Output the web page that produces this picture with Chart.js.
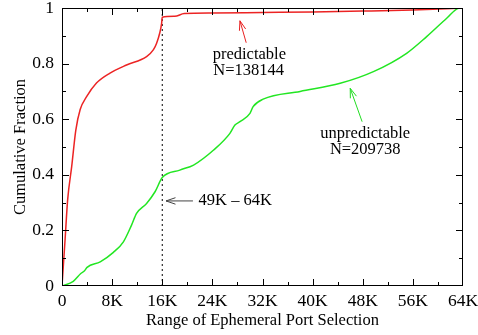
<!DOCTYPE html>
<html>
<head>
<meta charset="utf-8">
<script src="https://cdn.jsdelivr.net/npm/chart.js@4.4.1/dist/chart.umd.min.js"></script>
<style>
  html, body { margin: 0; padding: 0; background: #fff; }
</style>
</head>
<body>
<canvas id="myChart" width="478" height="335"></canvas>
<script>
// port range in K (thousands of ports), cumulative fraction on y
const predictableX = [0, 0.5, 0.9, 1.55, 2.2, 2.9, 3.9, 5.5, 7.6, 10.3, 13.5, 14.6, 15.1, 15.6, 15.9, 16.0, 18.0, 19.5, 24, 32, 40, 48, 56, 64];
const predictableY = [0, 0.17, 0.31, 0.43, 0.56, 0.635, 0.68, 0.73, 0.765, 0.795, 0.825, 0.85, 0.873, 0.91, 0.945, 0.967, 0.970, 0.980, 0.982, 0.984, 0.986, 0.989, 0.993, 1.0];

const unpredictableX = [0, 1.8, 3.0, 3.6, 4.0, 6.1, 8.2, 9.8, 11.1, 11.9, 13.5, 14.85, 16.0, 18.8, 21.0, 24.2, 26.8, 27.6, 28.4, 30.0, 30.5, 32.1, 38, 44.4, 49.7, 55.0, 58.2, 61.4, 63.3, 64];
const unpredictableY = [0, 0.017, 0.045, 0.055, 0.067, 0.087, 0.121, 0.159, 0.219, 0.261, 0.297, 0.339, 0.390, 0.417, 0.435, 0.489, 0.549, 0.579, 0.591, 0.621, 0.645, 0.672, 0.70, 0.729, 0.771, 0.837, 0.897, 0.963, 0.999, 1.0];

const cutoffX = [16, 16];
const cutoffY = [0, 1];

const xTicks = [0, 8, 16, 24, 32, 40, 48, 56, 64];
const yTicks = [0, 0.2, 0.4, 0.6, 0.8, 1];

const toPoints = (xs, ys) => xs.map((x, i) => ({ x: x, y: ys[i] }));

const serif = '"Liberation Serif", "Times New Roman", serif';

function arrow(ctx, x1, y1, x2, y2, color) {
  const a = Math.atan2(y2 - y1, x2 - x1);
  const h = 10, w = 0.33;
  ctx.strokeStyle = color;
  ctx.lineWidth = 1;
  ctx.beginPath();
  ctx.moveTo(x1, y1);
  ctx.lineTo(x2, y2);
  ctx.moveTo(x2 - h * Math.cos(a - w), y2 - h * Math.sin(a - w));
  ctx.lineTo(x2, y2);
  ctx.lineTo(x2 - h * Math.cos(a + w), y2 - h * Math.sin(a + w));
  ctx.stroke();
}

const frameAndNotes = {
  id: 'frameAndNotes',
  afterDraw(chart) {
    const ctx = chart.ctx;
    const xs = chart.scales.x, ys = chart.scales.y;
    const { left, right, top, bottom } = chart.chartArea;
    ctx.save();
    ctx.strokeStyle = '#000';
    ctx.lineWidth = 1;
    ctx.strokeRect(left + 0.5, top + 0.5, right - left - 1, bottom - top - 1);

    ctx.beginPath();
    for (let k = 4; k < 64; k += 4) {
      const px = Math.round(xs.getPixelForValue(k)) + 0.5;
      const len = k % 8 === 0 ? 7 : 4;
      ctx.moveTo(px, bottom); ctx.lineTo(px, bottom - len);
      ctx.moveTo(px, top); ctx.lineTo(px, top + len);
    }
    for (let i = 1; i < 10; i++) {
      const py = Math.round(ys.getPixelForValue(i / 10)) + 0.5;
      const len = i % 2 === 0 ? 7 : 4;
      ctx.moveTo(left, py); ctx.lineTo(left + len, py);
      ctx.moveTo(right, py); ctx.lineTo(right - len, py);
    }
    ctx.stroke();

    const P = (x, y) => [xs.getPixelForValue(x), ys.getPixelForValue(y)];
    ctx.font = '16.5px ' + serif;
    ctx.fillStyle = '#000';
    ctx.textAlign = 'center';
    ctx.textBaseline = 'middle';

    let p = P(29.9, 0.831); ctx.fillText('predictable', p[0], p[1]);
    p = P(29.8, 0.774); ctx.fillText('N=138144', p[0], p[1]);
    let a = P(29.4, 0.875), b = P(28.4, 0.954);
    arrow(ctx, a[0], a[1], b[0], b[1], '#e82020');

    p = P(48.4, 0.549); ctx.fillText('unpredictable', p[0], p[1]);
    p = P(48.4, 0.489); ctx.fillText('N=209738', p[0], p[1]);
    a = P(47.9, 0.591); b = P(46.0, 0.711);
    arrow(ctx, a[0], a[1], b[0], b[1], '#22dd22');

    ctx.textAlign = 'left';
    p = P(21.8, 0.306); ctx.fillText('49K \u2013 64K', p[0], p[1]);
    a = P(20.9, 0.306); b = P(16.6, 0.306);
    arrow(ctx, a[0], a[1], b[0], b[1], '#444');
    ctx.restore();
  }
};

const ctx = document.getElementById('myChart');

new Chart(ctx, {
  type: 'line',
  data: {
    datasets: [
      {
        label: 'predictable',
        data: toPoints(predictableX, predictableY),
        borderColor: '#ec2424',
        borderWidth: 1.5,
        cubicInterpolationMode: 'monotone',
        pointRadius: 0,
        fill: false
      },
      {
        label: 'unpredictable',
        data: toPoints(unpredictableX, unpredictableY),
        borderColor: '#22e622',
        borderWidth: 1.5,
        cubicInterpolationMode: 'monotone',
        pointRadius: 0,
        fill: false
      },
      {
        label: '16K',
        data: toPoints(cutoffX, cutoffY),
        borderColor: '#000',
        borderWidth: 1,
        borderDash: [2, 3],
        pointRadius: 0,
        fill: false
      }
    ]
  },
  options: {
    responsive: false,
    animation: false,
    layout: { padding: { top: 8, right: 15, left: 0, bottom: 0 } },
    plugins: { legend: { display: false }, tooltip: { enabled: false } },
    scales: {
      x: {
        type: 'linear',
        min: 0,
        max: 64,
        afterBuildTicks: s => { s.ticks = xTicks.map(v => ({ value: v })); },
        afterFit: s => { s.height = 49; s.paddingLeft = 0; s.paddingRight = 0; },
        grid: { display: false, drawTicks: false },
        border: { display: false },
        ticks: {
          autoSkip: false,
          maxRotation: 0,
          padding: 5,
          color: '#000',
          font: { family: serif, size: 17.5 },
          callback: v => (v === 0 ? '0' : v + 'K')
        },
        title: {
          display: true,
          text: 'Range of Ephemeral Port Selection',
          color: '#000',
          font: { family: serif, size: 16.5 },
          padding: { top: 0, bottom: 4 }
        }
      },
      y: {
        min: 0,
        max: 1,
        afterBuildTicks: s => { s.ticks = yTicks.map(v => ({ value: v })); },
        afterFit: s => { s.width = 62; s.paddingTop = 0; s.paddingBottom = 0; },
        grid: { display: false, drawTicks: false },
        border: { display: false },
        ticks: {
          padding: 8,
          color: '#000',
          font: { family: serif, size: 17.5 },
          callback: v => String(Math.round(v * 10) / 10)
        },
        title: {
          display: true,
          text: 'Cumulative Fraction',
          color: '#000',
          font: { family: serif, size: 16.5 },
          padding: { top: 11, bottom: 0 }
        }
      }
    }
  },
  plugins: [frameAndNotes]
});
</script>
</body>
</html>
